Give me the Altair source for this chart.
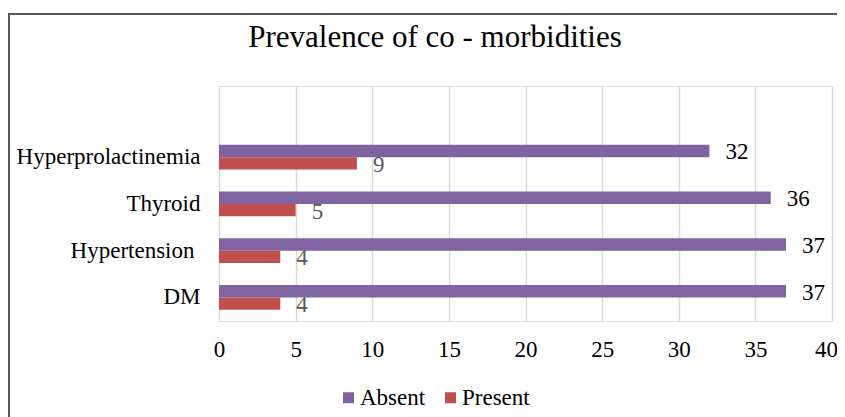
import altair as alt
import pandas as pd

categories = ["Hyperprolactinemia", "Thyroid", "Hypertension", "DM"]
absent = [32, 36, 37, 37]
present = [9, 5, 4, 4]
statuses = ["Absent", "Present"]
x_ticks = [0, 5, 10, 15, 20, 25, 30, 35, 40]
title_text = "Prevalence of co - morbidities"

rows = []
for c, a, p in zip(categories, absent, present):
    rows.append({"cat": c, "status": "Absent", "value": a})
    rows.append({"cat": c, "status": "Present", "value": p})
df = pd.DataFrame(rows)

FONT = "Liberation Serif"
FS = 23

y_enc = alt.Y(
    "cat:N",
    sort=categories,
    title=None,
    scale=alt.Scale(paddingInner=0.47, paddingOuter=0.748, align=0.84),
    axis=alt.Axis(
        domain=False, ticks=False, grid=False, labelFont=FONT, labelFontSize=FS,
        labelColor="#000000", labelLimit=400,
        labelPadding={"condition": {"test": "datum.value == 'Hypertension'", "value": 25},
                      "value": 19},
    ),
)
yoff_enc = alt.YOffset("status:N", sort=statuses,
                       scale=alt.Scale(paddingInner=0, paddingOuter=0))
x_enc = alt.X(
    "value:Q",
    title=None,
    scale=alt.Scale(domain=[0, 40], nice=False),
    axis=alt.Axis(
        values=x_ticks, domain=False, ticks=False, grid=True,
        gridColor="#D9D9D9", gridWidth=1.5, labelFont=FONT, labelFontSize=FS,
        labelColor="#000000", labelPadding=17, labelFlush=False,
        labelOffset={"condition": {"test": "datum.value == 40", "value": -6},
                     "value": 0},
    ),
)

base = alt.Chart(df)

bars = base.mark_bar().encode(
    y=y_enc,
    yOffset=yoff_enc,
    x=x_enc,
    color=alt.Color(
        "status:N",
        sort=statuses,
        scale=alt.Scale(domain=statuses, range=["#8064A2", "#C0504D"]),
        legend=alt.Legend(
            title=None, orient="none", legendX=115, legendY=300,
            direction="horizontal", symbolType="square", symbolSize=121,
            symbolStrokeWidth=0, symbolOffset=3, labelFont=FONT, labelFontSize=FS,
            labelColor="#000000", labelOffset=0, columnPadding=10, padding=0,
        ),
    ),
)

labels = base.mark_text(
    align="left", baseline="middle", dx=16, dy=1.5, font=FONT, fontSize=FS
).encode(
    y=alt.Y("cat:N", sort=categories),
    yOffset=alt.YOffset("status:N", sort=statuses),
    x=alt.X("value:Q"),
    text=alt.Text("value:Q"),
    fill=alt.Fill("status:N", sort=statuses,
                  scale=alt.Scale(domain=statuses, range=["#000000", "#595959"]),
                  legend=None),
)

one = alt.Chart(pd.DataFrame({"k": [0]}))

frame = one.mark_rect(filled=False, stroke="#595959", strokeWidth=2).encode(
    x=alt.value(-210), x2=alt.value(625), y=alt.value(-72), y2=alt.value(420)
)

title = one.mark_text(
    text=title_text, font=FONT, fontSize=31, align="center",
    baseline="alphabetic", color="#000000"
).encode(x=alt.value(216), y=alt.value(-39))

chart = alt.layer(frame, bars, labels, title).properties(
    width=613, height=235,
    autosize=alt.AutoSizeParams(type="none"),
    padding={"left": 211, "top": 78, "right": 5, "bottom": 96},
).configure_view(stroke=None).configure(background="#ffffff")

chart.save("out.html", embed_options={"renderer": "svg", "actions": False})
